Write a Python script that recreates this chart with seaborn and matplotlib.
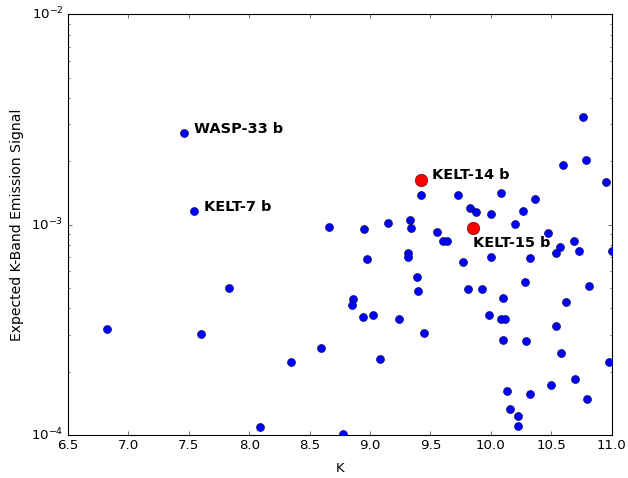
import matplotlib
matplotlib.use("Agg")
import matplotlib.pyplot as plt
import seaborn as sns
import pandas as pd

# ---- data ----
k_mag = [6.82, 7.463, 7.543, 7.60, 7.83, 8.087, 8.349, 8.594, 8.66, 8.777,
         8.95, 9.146, 9.328, 9.342, 9.422, 9.726, 10.08, 9.828, 9.878, 10.0,
         10.27, 10.366, 10.198, 10.60, 10.786, 10.766, 10.954, 9.552, 9.607, 9.635,
         10.476, 10.576, 10.54, 10.69, 10.727, 11.0, 8.973, 9.317, 9.312, 9.770,
         10.0, 10.322, 9.386, 9.40, 9.814, 9.925, 10.28, 10.815, 8.857, 8.848,
         10.104, 10.62, 8.942, 9.022, 9.240, 9.983, 10.082, 10.115, 9.447, 10.54,
         10.104, 10.294, 10.584, 10.98, 9.083, 10.70, 10.496, 10.134, 10.322, 10.799,
         10.156, 10.228, 10.228]
signal = [3.19e-4, 2.72e-3, 1.156e-3, 3.01e-4, 5.01e-4, 1.095e-4, 2.23e-4, 2.60e-4, 9.78e-4, 1.01e-4,
          9.53e-4, 1.018e-3, 1.052e-3, 9.61e-4, 1.38e-3, 1.38e-3, 1.41e-3, 1.20e-3, 1.15e-3, 1.12e-3,
          1.165e-3, 1.33e-3, 1.007e-3, 1.92e-3, 2.03e-3, 3.26e-3, 1.60e-3, 9.25e-4, 8.33e-4, 8.33e-4,
          9.16e-4, 7.85e-4, 7.36e-4, 8.33e-4, 7.49e-4, 7.49e-4, 6.87e-4, 7.31e-4, 7.04e-4, 6.62e-4,
          7.02e-4, 6.94e-4, 5.62e-4, 4.85e-4, 4.96e-4, 4.96e-4, 5.35e-4, 5.11e-4, 4.42e-4, 4.14e-4,
          4.47e-4, 4.30e-4, 3.65e-4, 3.72e-4, 3.55e-4, 3.72e-4, 3.55e-4, 3.57e-4, 3.06e-4, 3.29e-4,
          2.82e-4, 2.79e-4, 2.46e-4, 2.23e-4, 2.31e-4, 1.85e-4, 1.73e-4, 1.61e-4, 1.57e-4, 1.48e-4,
          1.33e-4, 1.23e-4, 1.10e-4]

kelt_names = ["KELT-14 b", "KELT-15 b"]
kelt_k = [9.422, 9.85]
kelt_signal = [1.63e-3, 9.61e-4]

other_names = ["WASP-33 b", "KELT-7 b"]
other_k = [7.463, 7.543]
other_signal = [2.72e-3, 1.156e-3]

x_label = "K"
y_label = "Expected K-Band Emission Signal"

# ---- plot ----
plt.style.use("classic")
fig = plt.figure(figsize=(628 / 80, 478 / 80), dpi=80, facecolor="white")
ax = fig.add_axes([68 / 628, 43 / 478, (611.7 - 68) / 628, (435 - 14.3) / 478])

df = pd.DataFrame({"K": k_mag, "signal": signal})
sns.scatterplot(data=df, x="K", y="signal", ax=ax, color="#0000ff", s=52,
                edgecolor="#000033", linewidth=0.5, zorder=3)
dk = pd.DataFrame({"K": kelt_k, "signal": kelt_signal})
sns.scatterplot(data=dk, x="K", y="signal", ax=ax, color="#ff0000", s=125,
                edgecolor="#330000", linewidth=0.5, zorder=4)

ax.set_yscale("log")
ax.set_xlim(6.5, 11.0)
ax.set_ylim(1e-4, 1e-2)
ax.set_xlabel(x_label, fontsize=12, labelpad=8.5)
ax.set_ylabel(y_label, fontsize=12.6, labelpad=6.5)

for name, kx, sy in zip(other_names, other_k, other_signal):
    ax.annotate(name, (kx, sy), xytext=(10, 0), textcoords="offset pixels",
                fontsize=13, fontweight="bold", ha="left", va="baseline")
ax.annotate(kelt_names[0], (kelt_k[0], kelt_signal[0]), xytext=(11, 1),
            textcoords="offset pixels", fontsize=13, fontweight="bold",
            ha="left", va="baseline")
ax.annotate(kelt_names[1], (kelt_k[1], kelt_signal[1]), xytext=(0, -19),
            textcoords="offset pixels", fontsize=13, fontweight="bold",
            ha="left", va="baseline")

if ax.get_legend() is not None:
    ax.get_legend().remove()

fig.savefig("out.png", dpi=80, facecolor="white")
